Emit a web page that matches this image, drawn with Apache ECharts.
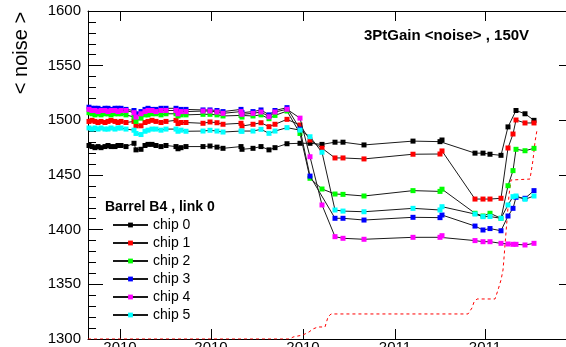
<!DOCTYPE html>
<html>
<head>
<meta charset="utf-8">
<script src="https://cdn.jsdelivr.net/npm/echarts@6/dist/echarts.min.js"></script>
<style>
html,body{margin:0;padding:0;background:#fff;}
#chart{width:566px;height:347px;}
</style>
</head>
<body>
<div id="chart"></div>
<script>
// x values: days since 2010-01-01
const days = [59, 62, 65, 68, 71, 75, 78, 81, 85, 88, 91, 96, 104, 106, 111, 115, 118, 122, 126, 131, 136, 146, 148, 151, 156, 173, 180, 187, 193, 211, 212, 223, 231, 239, 245, 257,
  270, 280, 292, 305, 313, 334, 383, 410, 412, 445, 453, 460, 471, 478, 483, 486, 495, 504];

const chip0 = [1477, 1476, 1475, 1476, 1475, 1476, 1477, 1476, 1476, 1477, 1477, 1476, 1479, 1473, 1473.5, 1477, 1478, 1478, 1477, 1476, 1477, 1476, 1474, 1475, 1476, 1476, 1476.5, 1475.5, 1474.4, 1476, 1473.5, 1474.4, 1476, 1473, 1475, 1478.6,
  1479, 1479, 1478, 1480, 1480, 1477.5, 1481, 1480.5, 1482, 1470, 1470, 1469, 1468, 1494, null, 1509, 1506, 1500];
const chip1 = [1499, 1500, 1499, 1498, 1499, 1498, 1499, 1500, 1499, 1498, 1499, 1498, 1499, 1495, 1495, 1498, 1499, 1500, 1499, 1498, 1499, 1500, 1497, 1498, 1498, 1497.3, 1498.5, 1497.8, 1496.4, 1497.3, 1494.8, 1496.4, 1497.8, 1494.2, 1496.4, 1500.9,
  1495.7, 1482, 1474.5, 1465.6, 1465.6, 1464.7, 1469, 1469.2, 1472, 1428, 1428, 1428, 1428.7, 1474.7, 1487.5, 1500.3, 1497.6, 1497.6];
const chip2 = [1507, 1506, 1505, 1506, 1505, 1506, 1506, 1505, 1506, 1506, 1506, 1505, 1503, 1499, 1502, 1505, 1505, 1506, 1506, 1505, 1506, 1506, 1504, 1505, 1505, 1505.5, 1505.5, 1505, 1504, 1504.5, 1503, 1504, 1505, 1501.5, 1504.5, 1508.5,
  1488, 1447, 1437.2, 1432.6, 1432.3, 1430.8, 1435.7, 1435, 1437, 1415, 1412.5, 1415, 1410.4, 1440.2, 1454, 1473.5, 1472.2, 1474.4];
const chip3 = [1512, 1511, 1511, 1511, 1510, 1511, 1511, 1510, 1511, 1511, 1511, 1510, 1509, 1506, 1508, 1510, 1511, 1510, 1510, 1511, 1511, 1511, 1508, 1510, 1510, 1509.5, 1509.5, 1509, 1508, 1510, 1507, 1508, 1509.5, 1505, 1509, 1511.6,
  1492, 1449, null, 1410.4, 1410.4, 1408.8, 1411.3, 1411, 1413.4, 1403.3, 1399.7, 1401, 1399, 1412.5, 1419.5, 1429.6, 1428.7, 1435.7];
const chip4 = [1510, 1509, 1509, 1508, 1509, 1509, 1508, 1509, 1509, 1508, 1509, 1509, 1507, 1503, 1506, 1508, 1509, 1509, 1508, 1509, 1509, 1509, 1506, 1508, 1508, 1508.5, 1508.5, 1507.6, 1506.4, 1508, 1505.5, 1506.4, 1507.6, 1503.3, 1507.6, 1510.1,
  1502, 1466.7, 1422.6, 1393.6, 1392.1, 1391.2, 1393, 1393, 1394.5, 1390, 1389, 1389, 1387.5, 1386.9, 1386.6, 1386.6, 1386, 1387.5];
const chip5 = [1493, 1492, 1493, 1492, 1493, 1492, 1492, 1493, 1492, 1493, 1493, 1492, 1491, 1488, 1487, 1490, 1491, 1492, 1492, 1491, 1492, 1492, 1490, 1491, 1490, 1490.2, 1490.9, 1490.2, 1489.3, 1490.2, 1490, 1490.2, 1491.8, 1488.1, 1490.2, 1493.3,
  1491, 1485, 1470.8, 1418, 1417, 1416.4, 1419.5, 1418, 1421, 1414.3, 1411.9, 1412, 1410.4, 1422.6, 1430.2, 1430.8, 1427.8, 1430.8];

// red dashed reference curve (drawn on the noise scale)
const refDays = [58, 260, 263, 273, 279, 283, 288, 295, 298, 301, 438, 442, 444, 447, 465, 468, 471, 473, 474, 475, 477, 479, 481, 500, 503, 505, 507];
const refValues = [1300, 1300, 1301.8, 1303.7, 1306.4, 1309.2, 1311, 1311, 1320.1, 1322.9, 1322.9, 1328.4, 1333.8, 1336.6, 1336.6, 1344.8, 1354, 1363.1, 1374.1, 1386, 1408.8, 1431.7, 1445.4, 1446.3, 1463.7, 1480.2, 1491.2];

const chipNames = ['chip 0', 'chip 1', 'chip 2', 'chip 3', 'chip 4', 'chip 5'];
const chipColors = ['#000000', '#ff0000', '#00ff00', '#0000ff', '#ff00ff', '#00ffff'];
const chipData = [chip0, chip1, chip2, chip3, chip4, chip5];

const tickDays = [90, 181, 273, 365, 455];
const tickLabels = ['2010', '2010', '2010', '2011', '2011'];
const yTicks = [1300, 1350, 1400, 1450, 1500, 1550, 1600];

const FONT = '"Liberation Sans", Arial, Helvetica, sans-serif';

const chart = echarts.init(document.getElementById('chart'), null, {renderer: 'canvas'});

const series = chipData.map((vals, k) => ({
  name: chipNames[k],
  type: 'line',
  xAxisIndex: 0,
  yAxisIndex: 0,
  data: days.map((d, i) => [d, vals[i]]),
  connectNulls: true,
  symbol: 'rect',
  symbolSize: 5,
  showSymbol: true,
  lineStyle: {color: '#1a1a1a', width: 1},
  itemStyle: {color: chipColors[k]},
  emphasis: {disabled: true},
  animation: false,
  z: 3 + k
}));

series.push({
  name: 'ref',
  type: 'line',
  data: refDays.map((d, i) => [d, refValues[i]]),
  symbol: 'none',
  lineStyle: {color: '#ff0000', width: 1, type: [3, 3]},
  emphasis: {disabled: true},
  animation: false,
  z: 2
});

const xCommon = {
  type: 'value',
  min: 58,
  max: 544,
  splitLine: {show: false},
  axisLine: {show: true, onZero: false, lineStyle: {color: '#000', width: 1}},
};

chart.setOption({
  animation: false,
  grid: {left: 88, top: 11, right: -8, bottom: 8, containLabel: false, outerBoundsMode: 'none'},
  xAxis: [
    Object.assign({}, xCommon, {
      position: 'bottom',
      axisTick: {show: true, inside: true, length: 10, customValues: tickDays, lineStyle: {color: '#000'}},
      axisLabel: {
        show: true, margin: 1, fontSize: 15, color: '#000', fontFamily: FONT,
        customValues: tickDays,
        formatter: v => tickLabels[tickDays.indexOf(Math.round(v))] || ''
      }
    }),
    Object.assign({}, xCommon, {
      position: 'top',
      axisTick: {show: true, inside: true, length: 10, customValues: tickDays, lineStyle: {color: '#000'}},
      axisLabel: {show: false}
    })
  ],
  yAxis: [
    {
      type: 'value', position: 'left', min: 1300, max: 1600, interval: 50,
      splitLine: {show: false},
      axisLine: {show: true, onZero: false, lineStyle: {color: '#000', width: 1}},
      axisTick: {show: true, inside: true, length: 15, lineStyle: {color: '#000'}},
      minorTick: {show: true, splitNumber: 5, length: 8, lineStyle: {color: '#000'}},
      axisLabel: {show: true, margin: 7, fontSize: 15, color: '#000', fontFamily: FONT,
        formatter: v => (yTicks.indexOf(v) >= 0 ? String(v) : '')}
    },
    {
      type: 'value', position: 'right', min: 1300, max: 1600, interval: 50,
      splitLine: {show: false},
      axisLine: {show: true, onZero: false, lineStyle: {color: '#000', width: 1}},
      axisTick: {show: true, inside: true, length: 15, lineStyle: {color: '#000'}},
      minorTick: {show: true, splitNumber: 5, length: 8, lineStyle: {color: '#000'}},
      axisLabel: {show: false}
    }
  ],
  legend: {
    data: chipNames,
    orient: 'vertical',
    left: 107,
    top: 211,
    itemWidth: 35,
    itemHeight: 6,
    itemGap: 0,
    selectedMode: false,
    textStyle: {fontSize: 14, lineHeight: 18, color: '#000', fontFamily: FONT}
  },
  graphic: [
    {
      type: 'text', x: 21, y: 53, rotation: Math.PI / 2,
      style: {text: '< noise >', font: '20px ' + FONT, fill: '#000', textAlign: 'center', textVerticalAlign: 'middle'}
    },
    {
      type: 'text', x: 364, y: 36,
      style: {text: '3PtGain <noise> , 150V', font: 'bold 15px ' + FONT, fill: '#000', textAlign: 'left', textVerticalAlign: 'middle'}
    },
    {
      type: 'text', x: 105, y: 207,
      style: {text: 'Barrel B4 , link 0', font: 'bold 14px ' + FONT, fill: '#000', textAlign: 'left', textVerticalAlign: 'middle'}
    }
  ],
  series: series
});
</script>
</body>
</html>
